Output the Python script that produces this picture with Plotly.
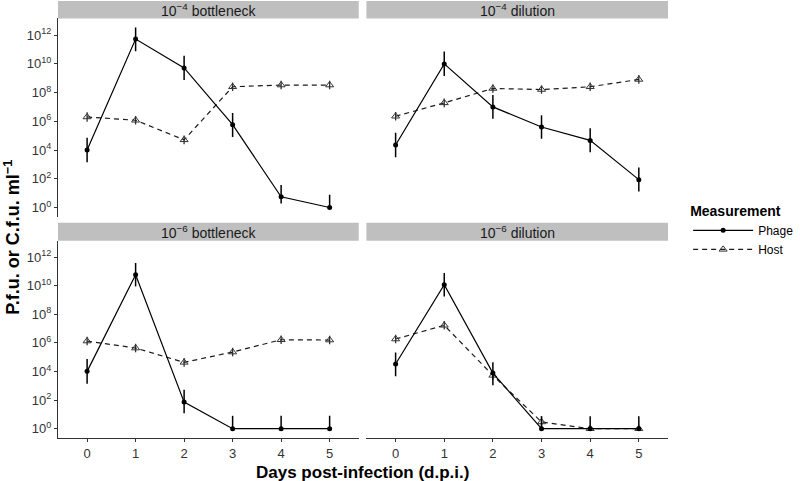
import plotly.graph_objects as go

# ---------------- data (log10 values) ----------------
days = [0, 1, 2, 3, 4, 5]
panels = ["10<sup>−4</sup> bottleneck", "10<sup>−4</sup> dilution",
          "10<sup>−6</sup> bottleneck", "10<sup>−6</sup> dilution"]

phage_log = [
    [4.0, 11.72, 9.71, 5.76, 0.75, 0.0],
    [4.35, 9.99, 7.0, 5.6, 4.67, 1.94],
    [4.01, 10.77, 1.86, 0.0, 0.0, 0.0],
    [4.52, 10.07, 3.89, 0.0, 0.0, 0.0],
]
phage_up = [
    [0.85, 0.8, 0.84, 0.82, 0.81, 0.89],
    [0.85, 0.86, 0.82, 0.82, 0.85, 0.85],
    [0.86, 0.82, 0.86, 0.9, 0.9, 0.9],
    [0.8, 0.82, 0.76, 0.87, 0.87, 0.87],
]
phage_dn = [
    [0.85, 0.85, 0.84, 0.86, 0.47, 0.0],
    [0.85, 0.84, 0.82, 0.82, 0.82, 0.82],
    [0.86, 0.82, 0.78, 0.0, 0.0, 0.0],
    [0.86, 0.82, 0.86, 0.0, 0.0, 0.0],
]
host_log = [
    [6.30, 6.07, 4.71, 8.40, 8.52, 8.52],
    [6.35, 7.28, 8.28, 8.21, 8.40, 8.91],
    [6.13, 5.64, 4.64, 5.36, 6.22, 6.20],
    [6.27, 7.23, 3.73, 0.47, 0.0, 0.0],
]
host_err = [
    [0.33, 0.3, 0.3, 0.3, 0.3, 0.3],
    [0.3, 0.3, 0.3, 0.3, 0.3, 0.3],
    [0.3, 0.3, 0.3, 0.3, 0.3, 0.3],
    [0.3, 0.3, 0.3, 0.4, 0.0, 0.0],
]
ytick_exp = [0, 2, 4, 6, 8, 10, 12]
ytick_text = ["10<sup>%d</sup>" % e for e in ytick_exp]

FONT = "Liberation Sans, Arial, Helvetica, sans-serif"

def lin(v):
    return [10 ** a for a in v]

def err_plus(v, e):
    return [10 ** (a + b) - 10 ** a for a, b in zip(v, e)]

def err_minus(v, e):
    return [10 ** a - 10 ** (a - b) for a, b in zip(v, e)]

fig = go.Figure()

axis_ids = [("x", "y"), ("x2", "y2"), ("x3", "y3"), ("x4", "y4")]
for i in range(4):
    xa, ya = axis_ids[i]
    fig.add_trace(go.Scatter(
        x=days, y=lin(host_log[i]), xaxis=xa, yaxis=ya,
        mode="lines+markers", name="Host", legendgroup="host",
        showlegend=(i == 0), legendrank=2,
        line=dict(color="#1a1a1a", width=1.2, dash="5px,4px"),
        marker=dict(symbol="triangle-up-open", size=7, color="#333333",
                    line=dict(width=1, color="#333333")),
        error_y=dict(type="data", symmetric=False,
                     array=err_plus(host_log[i], host_err[i]),
                     arrayminus=err_minus(host_log[i], host_err[i]),
                     width=0, thickness=1.3, color="#333333"),
    ))
    fig.add_trace(go.Scatter(
        x=days, y=lin(phage_log[i]), xaxis=xa, yaxis=ya,
        mode="lines+markers", name="Phage", legendgroup="phage",
        showlegend=(i == 0), legendrank=1,
        line=dict(color="black", width=1.2),
        marker=dict(symbol="circle", size=5, color="black"),
        error_y=dict(type="data", symmetric=False,
                     array=err_plus(phage_log[i], phage_up[i]),
                     arrayminus=err_minus(phage_log[i], phage_dn[i]),
                     width=0, thickness=1.5, color="black"),
    ))

# ---------------- layout geometry ----------------
XL = [0, 0.493]
XR = [0.5056, 1.0]
YT = [0.506, 0.960]
YB = [0.0, 0.4516]
STRIP_T = [0.960, 1.0]
STRIP_B = [0.4516, 0.4923]

xrange_ = [-0.6, 5.6]
yrange_ = [-0.65, 13.15]

def xaxis(domain, anchor, show):
    return dict(domain=domain, anchor=anchor, range=xrange_, showgrid=False,
                zeroline=False, showline=show, linecolor="#333333", linewidth=1.1,
                ticks="outside" if show else "", ticklen=3, tickcolor="#333333",
                tickvals=days, showticklabels=show,
                tickfont=dict(family=FONT, size=13, color="#333333"))

def yaxis(domain, anchor, show):
    return dict(domain=domain, anchor=anchor, type="log", range=yrange_,
                showgrid=False, zeroline=False, showline=show,
                linecolor="#333333", linewidth=1.1,
                ticks="outside" if show else "", ticklen=3, tickcolor="#333333",
                tickvals=[10 ** e for e in ytick_exp], ticktext=ytick_text,
                showticklabels=show,
                tickfont=dict(family=FONT, size=13, color="#333333"))

fig.update_layout(
    width=800, height=481,
    margin=dict(l=58, r=130, t=1, b=43),
    paper_bgcolor="white", plot_bgcolor="white",
    font=dict(family=FONT, size=12, color="black"),
    xaxis=xaxis(XL, "y", False), yaxis=yaxis(YT, "x", True),
    xaxis2=xaxis(XR, "y2", False), yaxis2=yaxis(YT, "x2", False),
    xaxis3=xaxis(XL, "y3", True), yaxis3=yaxis(YB, "x3", True),
    xaxis4=xaxis(XR, "y4", True), yaxis4=yaxis(YB, "x4", False),
    legend=dict(
        x=1.033, y=0.55, xanchor="left", yanchor="top",
        title=dict(text="<b>Measurement</b>", font=dict(family=FONT, size=14, color="black")),
        font=dict(family=FONT, size=12, color="black"),
        itemwidth=60, tracegroupgap=0, bgcolor="rgba(0,0,0,0)",
    ),
)

# strips
strip_pos = [(XL, STRIP_T), (XR, STRIP_T), (XL, STRIP_B), (XR, STRIP_B)]
for (xd, yd), label in zip(strip_pos, panels):
    fig.add_shape(type="rect", xref="paper", yref="paper",
                  x0=xd[0], x1=xd[1], y0=yd[0], y1=yd[1],
                  fillcolor="#bfbfbf", line=dict(width=0), layer="below")
    fig.add_annotation(xref="paper", yref="paper", x=(xd[0] + xd[1]) / 2,
                       y=(yd[0] + yd[1]) / 2, text=label, showarrow=False,
                       xanchor="center", yanchor="middle",
                       font=dict(family=FONT, size=14, color="#1a1a1a"))

# axis titles
fig.add_annotation(xref="paper", yref="paper", x=0.4995, y=-0.0785,
                   text="<b>Days post-infection (d.p.i.)</b>", showarrow=False,
                   xanchor="center", yanchor="middle",
                   font=dict(family=FONT, size=17, color="black"))
fig.add_annotation(xref="paper", yref="paper", x=-0.074, y=0.46,
                   text="<b>P.f.u. or C.f.u. ml<sup>−1</sup></b>", showarrow=False,
                   textangle=-90, xanchor="center", yanchor="middle",
                   font=dict(family=FONT, size=18, color="black"))

fig.write_html("out.html",
               config={"displayModeBar": False},
               post_script="document.body.style.margin='0';document.body.style.padding='0';")
